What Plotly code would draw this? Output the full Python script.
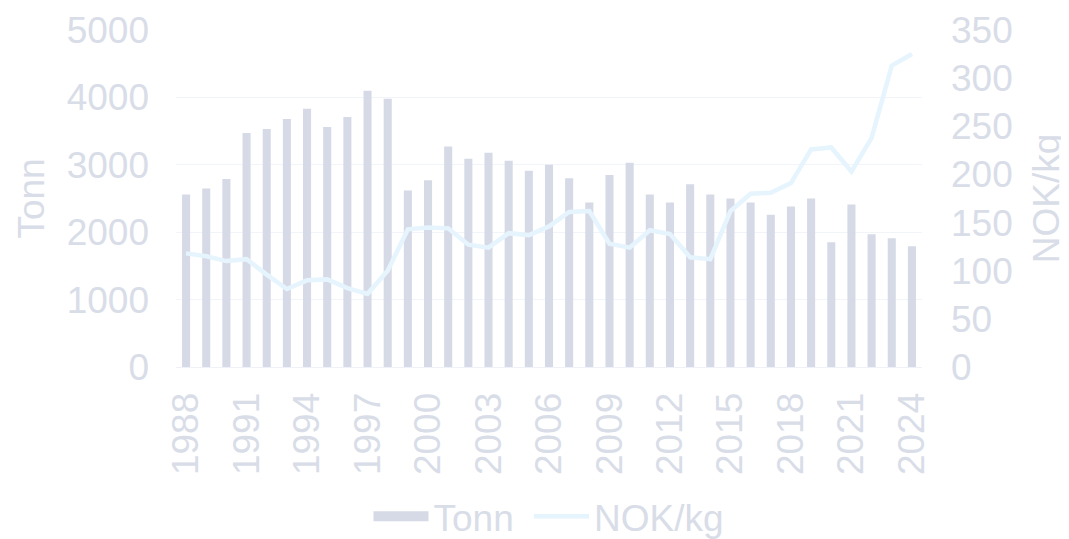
import plotly.graph_objects as go

years = list(range(1988, 2025))
tonn = [2560, 2650, 2790, 3470, 3530, 3680, 3830, 3560, 3710, 4100,
        3980, 2620, 2770, 3270, 3090, 3180, 3060, 2910, 3000, 2800,
        2440, 2850, 3030, 2560, 2440, 2710, 2560, 2500, 2440, 2260,
        2380, 2500, 1850, 2410, 1970, 1910, 1790]
nok_kg = [118, 115, 110, 112, 96, 81, 90, 91, 82, 76,
          100, 143, 145, 144, 127, 124, 139, 137, 146, 161,
          162, 128, 124, 142, 138, 114, 112, 162, 180, 181,
          191, 226, 228, 203, 238, 313, 325]
tick_years = years[::3]

text_col = "#D8DDE8"
bar_col = "#D6DAE6"
line_col = "#E6F4FD"
font = dict(family="Liberation Sans, Arial, sans-serif", size=37, color=text_col)

fig = go.Figure()
fig.add_trace(go.Bar(x=years, y=tonn, name="Tonn", marker_color=bar_col,
                     marker_line_width=0, showlegend=False))
fig.add_trace(go.Scatter(x=years, y=nok_kg, name="NOK/kg", yaxis="y2",
                         mode="lines", line=dict(color=line_col, width=4.5),
                         showlegend=False))
# legend entries (bar shown as a thick swatch like the original)
fig.add_trace(go.Scatter(x=[None], y=[None], name="Tonn\u00a0", mode="lines",
                         line=dict(color=bar_col, width=17)))
fig.add_trace(go.Scatter(x=[None], y=[None], name="NOK/kg", mode="lines",
                         line=dict(color=line_col, width=4.5)))

# page body adds an 8px offset, so the figure is a bit smaller than the window
fig.update_layout(
    width=1061, height=531,
    margin=dict(l=168, r=147, t=22, b=172),
    paper_bgcolor="white", plot_bgcolor="white",
    font=font,
    bargap=0.6,
    showlegend=True,
    legend=dict(orientation="h", x=0.5, xanchor="center", xref="paper",
                y=0.042, yanchor="middle", yref="container",
                font=font, itemwidth=55, traceorder="normal"),
    xaxis=dict(range=[1987.5, 2024.5], tickmode="array", tickvals=tick_years,
               ticktext=[str(y) for y in tick_years], tickangle=-90,
               showgrid=False, zeroline=False, showline=True,
               linecolor="#EEF1F7", linewidth=1, ticks="",
               ticklabelstandoff=10, automargin=False),
    yaxis=dict(range=[0, 5000], dtick=1000, showgrid=True, gridcolor="#F1F4F9",
               gridwidth=1, zeroline=False, showline=False, ticks="",
               ticklabelstandoff=26, automargin=False,
               title=dict(text="Tonn", standoff=10, font=font)),
    yaxis2=dict(range=[0, 350], dtick=50, overlaying="y", side="right",
                showgrid=False, zeroline=False, showline=False, ticks="",
                ticklabelstandoff=28, automargin=False,
                title=dict(text="NOK/kg", standoff=21, font=font)),
)

fig.write_html("out.html")
